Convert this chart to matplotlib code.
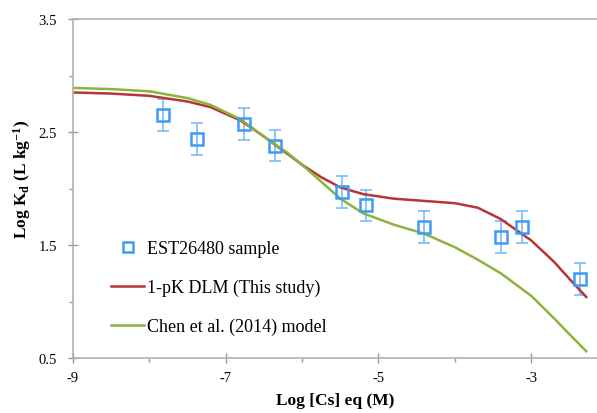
import matplotlib
matplotlib.use("Agg")
import matplotlib.pyplot as plt
from matplotlib.ticker import FixedLocator

# measured Kd data (EST26480 sample)
x_obs = [-7.82, -7.38, -6.76, -6.36, -5.48, -5.16, -4.41, -3.39, -3.12, -2.36, -2.0]
y_obs = [2.65, 2.44, 2.57, 2.38, 1.97, 1.85, 1.66, 1.57, 1.66, 1.20, 1.46]
y_err = [0.14, 0.14, 0.14, 0.14, 0.14, 0.14, 0.14, 0.14, 0.14, 0.14, 0.14]

# model curves
x_model = [-9, -8.5, -8, -7.5, -7.2, -6.8, -6.5, -6.2, -6.0, -5.75, -5.5,
           -5.2, -4.8, -4.4, -4.0, -3.7, -3.4, -3.0, -2.7, -2.5, -2.28]
y_dlm = [2.85, 2.84, 2.82, 2.77, 2.72, 2.60, 2.46, 2.31, 2.21, 2.10, 2.01,
         1.95, 1.91, 1.89, 1.87, 1.83, 1.73, 1.54, 1.35, 1.20, 1.04]
y_chen = [2.89, 2.88, 2.86, 2.80, 2.74, 2.61, 2.46, 2.32, 2.21, 2.06, 1.91,
          1.78, 1.68, 1.60, 1.48, 1.37, 1.25, 1.05, 0.85, 0.71, 0.56]

x_major = [-9, -7, -5, -3]
x_minor = [-8, -6, -4, -2]
y_major = [0.5, 1.5, 2.5, 3.5]
y_minor = [1.0, 2.0, 3.0]

plt.rcParams["font.family"] = ["Liberation Serif", "DejaVu Serif"]
plt.rcParams["mathtext.fontset"] = "custom"
plt.rcParams["mathtext.rm"] = "Liberation Serif"
plt.rcParams["mathtext.it"] = "Liberation Serif:italic"
plt.rcParams["mathtext.bf"] = "Liberation Serif:bold"

fig = plt.figure(figsize=(5.97, 4.14), dpi=100)
# the original figure is cropped on the right, so the axes run past the edge
ax = fig.add_axes([73 / 597, 55 / 414, 611 / 597, 339 / 414])

blue = "#3d9bf5"
ax.errorbar(x_obs, y_obs, yerr=y_err, fmt="none", ecolor="#7bbcf7",
            elinewidth=1.2, capsize=4, capthick=1.2, zorder=2)
ax.plot(x_obs, y_obs, "s", ms=9, mfc="none", mec=blue, mew=1.8, zorder=3,
        label="EST26480 sample")
ax.plot(x_model, y_dlm, color="#b83535", lw=1.8, label="1-pK DLM (This study)")
ax.plot(x_model, y_chen, color="#8cb43c", lw=1.8, label="Chen et al. (2014) model")

ax.set_xlim(-9, -1)
ax.set_ylim(0.5, 3.5)
ax.xaxis.set_major_locator(FixedLocator(x_major))
ax.xaxis.set_minor_locator(FixedLocator(x_minor))
ax.yaxis.set_major_locator(FixedLocator(y_major))
ax.yaxis.set_minor_locator(FixedLocator(y_minor))

for side in ["left", "bottom", "top", "right"]:
    ax.spines[side].set_color("#b0b0b0")
    ax.spines[side].set_linewidth(1.2)

ax.tick_params(which="major", direction="inout", length=7, color="#999999",
               labelsize=10.5, width=1)
ax.tick_params(which="minor", direction="out", length=3, color="#999999", width=1)
ax.tick_params(axis="x", pad=6)
ax.tick_params(axis="y", pad=8)
ax.yaxis.set_major_formatter(plt.FuncFormatter(lambda v, p: f"{v:.1f}"))
ax.xaxis.set_major_formatter(plt.FuncFormatter(lambda v, p: f"{v:.0f}"))

ax.set_xlabel("Log [Cs] eq (M)", fontsize=12.5, fontweight="bold")
ax.set_ylabel("Log K$_\\mathbf{d}$ (L kg$^\\mathbf{-1}$)", fontsize=12.5,
              fontweight="bold")
ax.xaxis.set_label_coords((335 - 73) / 611, -0.1)
ax.yaxis.set_label_coords(-(73 - 33) / 611, 0.53)

ax.legend(loc="upper left", bbox_to_anchor=(95 / 597, 1 - 225 / 414),
          bbox_transform=fig.transFigure, frameon=False, fontsize=13,
          handlelength=1.8, handletextpad=0.2, labelspacing=1.2,
          markerscale=0.75)

fig.savefig("out.png", dpi=100)
